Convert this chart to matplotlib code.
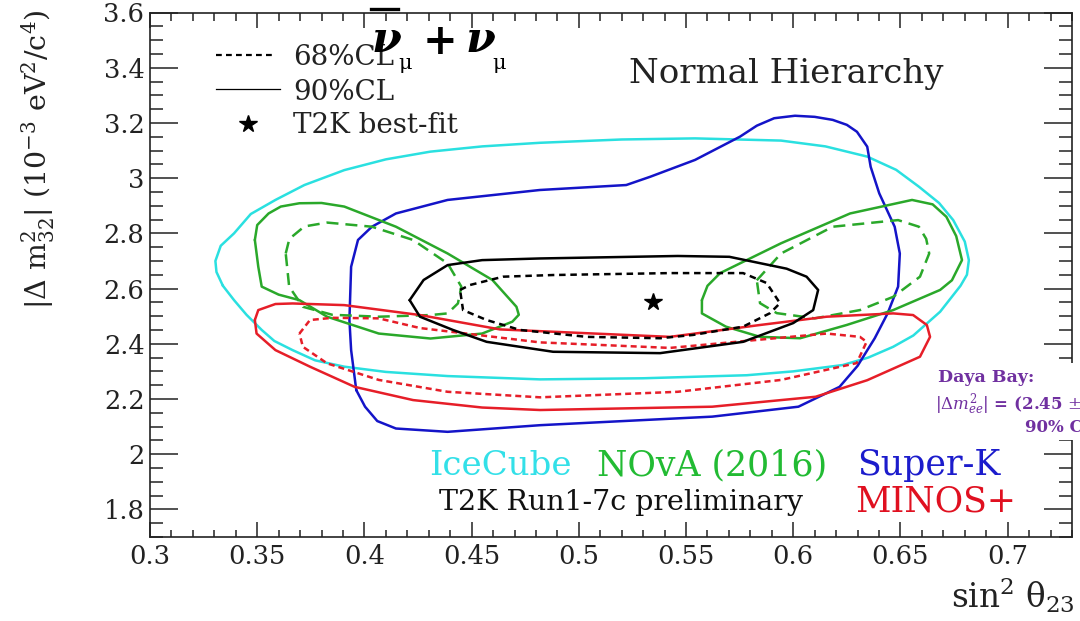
import numpy as np
import matplotlib
matplotlib.use("Agg")
import matplotlib.pyplot as plt
from matplotlib.ticker import MultipleLocator, FuncFormatter
from matplotlib.lines import Line2D
from matplotlib.patches import Rectangle

plt.rcParams["font.family"] = ["DejaVu Serif"]
plt.rcParams["mathtext.fontset"] = "dejavuserif"

# ---------------- contour data: (sin^2 theta23, |dm^2_32| [1e-3 eV^2]) ----------------
icecube90_x = [0.3340, 0.3310, 0.3305, 0.3330, 0.3392, 0.3470, 0.3585, 0.3720, 0.3906, 0.4100,
               0.4308, 0.4550, 0.4818, 0.5200, 0.5542, 0.5943, 0.6150, 0.6345, 0.6480, 0.6586,
               0.6680, 0.6746, 0.6800, 0.6819, 0.6810, 0.6780, 0.6685, 0.6560, 0.6466, 0.6350,
               0.6231, 0.6000, 0.5783, 0.5300, 0.4819, 0.4388, 0.4100, 0.3906, 0.3770, 0.3665,
               0.3580, 0.3521, 0.3450, 0.3392]
icecube90_y = [2.610, 2.660, 2.700, 2.755, 2.800, 2.870, 2.921, 2.975, 3.029, 3.068,
               3.096, 3.115, 3.128, 3.140, 3.144, 3.136, 3.115, 3.078, 3.030, 2.969,
               2.910, 2.848, 2.770, 2.703, 2.650, 2.610, 2.516, 2.430, 2.389, 2.350,
               2.323, 2.300, 2.286, 2.275, 2.271, 2.283, 2.298, 2.317, 2.340, 2.377,
               2.410, 2.450, 2.505, 2.558]

superk90_x = [0.3962, 0.3938, 0.3930, 0.3938, 0.3970, 0.4035, 0.4147, 0.4388, 0.4818, 0.5221,
              0.5333, 0.5542, 0.5751, 0.5830, 0.5911, 0.6008, 0.6100, 0.6184, 0.6250, 0.6297,
              0.6345, 0.6361, 0.6401, 0.6473, 0.6497, 0.6489, 0.6440, 0.6380, 0.6300, 0.6216,
              0.6024, 0.5622, 0.4819, 0.4388, 0.4147, 0.4060, 0.4003]
superk90_y = [2.232, 2.377, 2.486, 2.679, 2.776, 2.824, 2.872, 2.921, 2.957, 2.975,
              3.005, 3.066, 3.150, 3.190, 3.217, 3.226, 3.222, 3.211, 3.193, 3.168,
              3.114, 3.041, 2.945, 2.824, 2.727, 2.607, 2.510, 2.420, 2.320, 2.244,
              2.172, 2.136, 2.105, 2.081, 2.093, 2.120, 2.172]

nova90_left_x = [0.3489, 0.3500, 0.3553, 0.3610, 0.3697, 0.3800, 0.3906, 0.4147, 0.4388, 0.4597,
                 0.4709, 0.4720, 0.4690, 0.4549, 0.4308, 0.4067, 0.3826, 0.3697, 0.3600, 0.3521,
                 0.3505]
nova90_left_y = [2.776, 2.830, 2.872, 2.897, 2.909, 2.910, 2.897, 2.824, 2.727, 2.631,
                 2.534, 2.505, 2.480, 2.437, 2.419, 2.437, 2.498, 2.558, 2.578, 2.607,
                 2.679]

nova68_left_x = [0.3633, 0.3650, 0.3720, 0.3826, 0.4035, 0.4227, 0.4388, 0.4452, 0.4436, 0.4388,
                 0.4308, 0.4067, 0.3850, 0.3713, 0.3649]
nova68_left_y = [2.727, 2.780, 2.825, 2.839, 2.824, 2.776, 2.691, 2.607, 2.546, 2.510,
                 2.504, 2.498, 2.505, 2.534, 2.607]

nova90_right_x = [0.5574, 0.5600, 0.5659, 0.5943, 0.6265, 0.6554, 0.6650, 0.6714, 0.6760, 0.6787,
                  0.6740, 0.6685, 0.6466, 0.6249, 0.6032, 0.5845, 0.5686, 0.5574]
nova90_right_y = [2.558, 2.610, 2.656, 2.764, 2.872, 2.921, 2.905, 2.860, 2.790, 2.703,
                  2.630, 2.595, 2.522, 2.468, 2.420, 2.425, 2.462, 2.510]

nova68_right_x = [0.5830, 0.5943, 0.6184, 0.6489, 0.6586, 0.6620, 0.6634, 0.6591, 0.6466, 0.6311,
                  0.6100, 0.5923, 0.5845]
nova68_right_y = [2.630, 2.727, 2.824, 2.848, 2.824, 2.780, 2.727, 2.643, 2.570, 2.522,
                  2.492, 2.511, 2.547]

t2k90_x = [0.4211, 0.4276, 0.4388, 0.4549, 0.4818, 0.5461, 0.5702, 0.5969, 0.6062, 0.6116,
           0.6093, 0.6000, 0.5766, 0.5379, 0.4880, 0.4570, 0.4413, 0.4259]
t2k90_y = [2.558, 2.631, 2.685, 2.703, 2.709, 2.718, 2.715, 2.672, 2.643, 2.595,
           2.522, 2.475, 2.407, 2.366, 2.371, 2.407, 2.450, 2.498]

t2k68_x = [0.4446, 0.4493, 0.4647, 0.4880, 0.5425, 0.5766, 0.5876, 0.5938, 0.5892, 0.5766,
           0.5533, 0.5379, 0.5037, 0.4726, 0.4570, 0.4460]
t2k68_y = [2.595, 2.613, 2.643, 2.649, 2.656, 2.656, 2.620, 2.547, 2.511, 2.462,
           2.432, 2.420, 2.425, 2.450, 2.486, 2.522]

minos90_x = [0.3489, 0.3505, 0.3585, 0.3665, 0.3906, 0.4259, 0.4632, 0.5425, 0.5845, 0.6156,
             0.6466, 0.6559, 0.6623, 0.6638, 0.6591, 0.6345, 0.6104, 0.5622, 0.4819, 0.4549,
             0.4227, 0.3954, 0.3746, 0.3585, 0.3497]
minos90_y = [2.486, 2.522, 2.544, 2.546, 2.540, 2.504, 2.452, 2.425, 2.468, 2.498,
             2.510, 2.504, 2.468, 2.425, 2.353, 2.268, 2.208, 2.172, 2.160, 2.169,
             2.196, 2.244, 2.317, 2.377, 2.437]

minos68_x = [0.3697, 0.3746, 0.3850, 0.4067, 0.4259, 0.4818, 0.5425, 0.5845, 0.6156, 0.6311,
             0.6342, 0.6296, 0.5943, 0.5461, 0.4819, 0.4388, 0.4067, 0.3826, 0.3713]
minos68_y = [2.437, 2.486, 2.494, 2.492, 2.457, 2.405, 2.385, 2.415, 2.437, 2.425,
             2.407, 2.330, 2.269, 2.226, 2.206, 2.226, 2.269, 2.329, 2.389]

t2k_best_fit = (0.5346, 2.552)

x_ticks = [0.30, 0.35, 0.40, 0.45, 0.50, 0.55, 0.60, 0.65, 0.70]
y_ticks = [1.8, 2.0, 2.2, 2.4, 2.6, 2.8, 3.0, 3.2, 3.4, 3.6]

# ---------------- colours ----------------
C_ICE = "#2ae0e0"
C_NOVA = "#2aa82a"
C_SK = "#1414c8"
C_MINOS = "#e61e28"
C_T2K = "#000000"

W, H = 1080, 621
fig = plt.figure(figsize=(W / 100, H / 100), dpi=100)
fig.patch.set_facecolor("white")


def fx(px):
    return px / W


def fy(py):
    return 1 - py / H


ax = fig.add_axes([fx(150), fy(537), (1072 - 150) / W, (537 - 12.5) / H])
ax.set_xlim(0.3, 0.73)
ax.set_ylim(1.7, 3.6)


def closed(xs, ys):
    return list(xs) + [xs[0]], list(ys) + [ys[0]]


def draw(xs, ys, color, dashes=None, lw=1.8):
    cx, cy = closed(xs, ys)
    ln, = ax.plot(cx, cy, color=color, lw=lw, solid_joinstyle="round",
                  dash_joinstyle="round", solid_capstyle="round")
    if dashes is not None:
        ln.set_dashes(dashes)
    return ln


draw(icecube90_x, icecube90_y, C_ICE)
draw(superk90_x, superk90_y, C_SK)
draw(nova90_left_x, nova90_left_y, C_NOVA)
draw(nova90_right_x, nova90_right_y, C_NOVA)
draw(nova68_left_x, nova68_left_y, C_NOVA, dashes=(4.8, 2.8))
draw(nova68_right_x, nova68_right_y, C_NOVA, dashes=(4.8, 2.8))
draw(minos90_x, minos90_y, C_MINOS)
draw(minos68_x, minos68_y, C_MINOS, dashes=(2.4, 1.6))
draw(t2k90_x, t2k90_y, C_T2K)
draw(t2k68_x, t2k68_y, C_T2K, dashes=(2.6, 1.9))
ax.plot([t2k_best_fit[0]], [t2k_best_fit[1]], marker="*", ms=13, color="black", ls="none")

# ---------------- axes styling (ROOT look) ----------------
ax.set_xticks(x_ticks)
ax.set_yticks(y_ticks)
ax.xaxis.set_minor_locator(MultipleLocator(0.01))
ax.yaxis.set_minor_locator(MultipleLocator(0.05))
fmt = FuncFormatter(lambda v, p: "%g" % round(v, 3))
ax.xaxis.set_major_formatter(fmt)
ax.yaxis.set_major_formatter(fmt)
for s in ax.spines.values():
    s.set_linewidth(1.2)
    s.set_color("#222222")
ax.tick_params(axis="x", which="major", direction="in", top=True, length=10.8, width=1.1,
               labelsize=18.5, pad=5, colors="#222222")
ax.tick_params(axis="x", which="minor", direction="in", top=True, length=5.4, width=1.1,
               colors="#222222")
ax.tick_params(axis="y", which="major", direction="in", right=True, length=20, width=1.1,
               labelsize=18.5, pad=4, colors="#222222")
ax.tick_params(axis="y", which="minor", direction="in", right=True, length=9.5, width=1.1,
               colors="#222222")

# axis titles
fig.text(fx(38), fy(10), r"|$\Delta$ $\mathrm{m}^{2}_{32}$| ($10^{-3}$ $\mathrm{eV}^{2}/\mathrm{c}^{4}$)",
         rotation=90, ha="center", va="top", fontsize=20.5, color="#222222")
fig.text(fx(1075), fy(608), r"sin$^{2}$ θ$_{23}$", ha="right", va="baseline",
         fontsize=23.5, color="#222222")

# in-frame labels
fig.text(fx(629), fy(83), "Normal Hierarchy", ha="left", va="baseline", fontsize=24.5,
         color="#222222")
fig.text(fx(429), fy(475), "IceCube", ha="left", va="baseline", fontsize=24.5, color="#33e0e8")
fig.text(fx(597), fy(475), "NOvA (2016)", ha="left", va="baseline", fontsize=25, color="#22bb33")
fig.text(fx(857), fy(475), "Super-K", ha="left", va="baseline", fontsize=25, color="#1c1ccc")
fig.text(fx(439), fy(510), "T2K Run1-7c preliminary", ha="left", va="baseline", fontsize=20.5,
         color="#111111")
fig.text(fx(855), fy(512), "MINOS+", ha="left", va="baseline", fontsize=25, color="#e01020")

# legend
fig.add_artist(Line2D([fx(216), fx(273)], [fy(55), fy(55)], color="black", lw=1.6,
                      dashes=(2.6, 1.9)))
fig.add_artist(Line2D([fx(216), fx(280)], [fy(89), fy(89)], color="black", lw=0.9))
fig.add_artist(Line2D([fx(248)], [fy(124)], marker="*", ms=13, color="black", ls="none"))
fig.text(fx(293), fy(65), "68%CL", ha="left", va="baseline", fontsize=20, color="#222222")
fig.text(fx(293), fy(100), "90%CL", ha="left", va="baseline", fontsize=20, color="#222222")
fig.text(fx(293), fy(133), "T2K best-fit", ha="left", va="baseline", fontsize=20, color="#222222")

# channel title
fig.text(fx(372), fy(52), "ν", ha="left", va="baseline", fontsize=31, fontweight="bold",
         fontstyle="italic", color="black")
fig.add_artist(Line2D([fx(371), fx(398)], [fy(8.5), fy(8.5)], color="black", lw=2.4))
fig.text(fx(398), fy(69), "μ", ha="left", va="baseline", fontsize=15, color="black")
fig.text(fx(423), fy(42), "+", ha="left", va="center", fontsize=30, fontweight="bold",
         color="black")
fig.text(fx(466), fy(52), "ν", ha="left", va="baseline", fontsize=31, fontweight="bold",
         fontstyle="italic", color="black")
fig.text(fx(492), fy(69), "μ", ha="left", va="baseline", fontsize=15, color="black")

# Daya Bay note box
fig.add_artist(Rectangle((fx(935), fy(440)), 145 / W, 77 / H, facecolor="white",
                         edgecolor="none", zorder=5))
C_DB = "#7030a0"
fig.text(fx(938), fy(378), "Daya Bay:", ha="left", va="center", fontsize=12.5,
         fontweight="bold", color=C_DB, zorder=6)
fig.text(fx(935), fy(405), r"$|\Delta m^{2}_{ee}|$ = (2.45 $\pm$ 0.08)", ha="left",
         va="center", fontsize=12, fontweight="bold", color=C_DB, zorder=6)
fig.text(fx(1025), fy(427), "90% C.L.", ha="left", va="center", fontsize=12,
         fontweight="bold", color=C_DB, zorder=6)

fig.savefig("out.png", dpi=100)
